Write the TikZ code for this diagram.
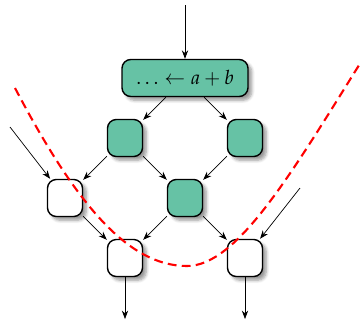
\documentclass[tikz,border=0pt]{standalone}
\usepackage{mathpazo}
\usepackage{tikz}
\usetikzlibrary{arrows.meta,positioning,shadows.blur}
\definecolor{setgreen}{RGB}{102,194,165}

\begin{document}
\begin{tikzpicture}[
  node distance=1.2cm and 1.2cm, on grid,
  op/.style={draw,thick,rounded corners=5pt,fill=setgreen,minimum width=0.7cm,
             minimum height=0.74cm,blur shadow={shadow blur steps=6}},
  io/.style={op,fill=white},
  arr/.style={-Stealth}
]
\useasboundingbox (-3.70,1.56) rectangle (3.52,-4.90);
\node[op,minimum width=2.52cm,font=\fontsize{11.2}{13}\selectfont] (root) {$\dots\leftarrow a+b$};
\node[op,below left=of root]  (lft)  {};
\node[op,below right=of root] (rgt)  {};
\node[io,below left=of lft]   (in1)  {};
\node[op,below right=of lft]  (mid)  {};
\node[io,below right=of in1]  (out1) {};
\node[io,below right=of mid]  (out2) {};
% free ends
\coordinate (top)  at (0,1.46);
\coordinate (src1) at (-3.50,-0.98);
\coordinate (src2) at (2.30,-2.20);
\coordinate[below=1.22cm of out1] (sink1);
\coordinate[below=1.22cm of out2] (sink2);
\draw[arr] (top)  -- (root);
\draw[arr] (root) -- (lft);
\draw[arr] (root) -- (rgt);
\draw[arr] (lft)  -- (in1);
\draw[arr] (lft)  -- (mid);
\draw[arr] (rgt)  -- (mid);
\draw[arr] (src1) -- (in1);
\draw[arr] (in1)  -- (out1);
\draw[arr] (mid)  -- (out1);
\draw[arr] (mid)  -- (out2);
\draw[arr] (src2) -- (out2);
\draw[arr] (out1) -- (sink1);
\draw[arr] (out2) -- (sink2);
% cut
\draw[red,very thick,dash pattern=on 5pt off 3pt]
  (-3.40,-0.20) .. controls (-2.20,-2.48) and (-1.16,-3.76) .. (0.04,-3.76)
  .. controls (1.04,-3.76) and (2.12,-1.92) .. (3.52,0.32);
\end{tikzpicture}
\end{document}
